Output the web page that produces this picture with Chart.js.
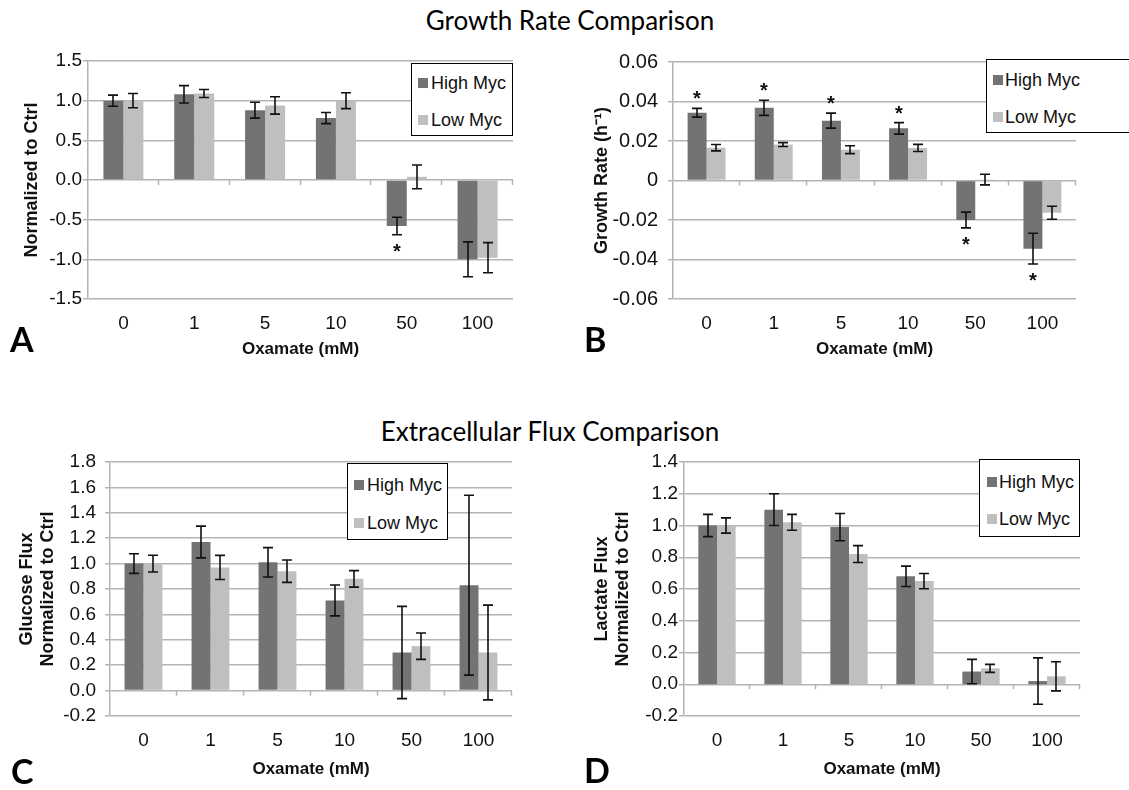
<!DOCTYPE html>
<html lang="en">
<head>
<meta charset="UTF-8">
<title>Growth Rate / Extracellular Flux Comparison</title>
<script src="https://cdn.jsdelivr.net/npm/chart.js"></script>
<style>
  body { margin: 0; width: 1129px; height: 790px; overflow: hidden; background: #fff; position: relative;
         font-family: Arial, "Liberation Sans", sans-serif; color: #111; }
  canvas { position: absolute; }
  .titulo { position: absolute; font-family: Lato, "Open Sans", sans-serif; font-size: 26px; line-height: 30px;
            white-space: nowrap; transform: translateX(-50%); color: #000; }
  .letra { position: absolute; font-family: Lato, "Open Sans", sans-serif; font-weight: bold; font-size: 34px; line-height: 34px; color: #000; }
  .legenda { position: absolute; border: 1px solid #000; background: #fff; box-sizing: border-box; }
  .sw { position: absolute; width: 10px; height: 10px; }
  .txt { position: absolute; font-size: 18px; line-height: 20px; white-space: nowrap; }
</style>
</head>
<body>
  <div class="titulo" style="left:570px; top:5px;">Growth Rate Comparison</div>
  <div class="titulo" style="left:550px; top:416px;">Extracellular Flux Comparison</div>

  <canvas id="graficoA"></canvas>
  <canvas id="graficoB"></canvas>
  <canvas id="graficoC"></canvas>
  <canvas id="graficoD"></canvas>

  <div class="letra" style="left:10px; top:322px;">A</div>
  <div class="letra" style="left:584px; top:322px;">B</div>
  <div class="letra" style="left:11px; top:754px;">C</div>
  <div class="letra" style="left:584px; top:753px;">D</div>

  <div id="legendas"></div>

<script>
// dados
const doses = ['0', '1', '5', '10', '50', '100'];

const growthHigh = [1.00, 1.08, 0.88, 0.78, -0.58, -1.00];
const growthHighErr = [0.07, 0.11, 0.10, 0.07, 0.11, 0.22];
const growthLow = [1.00, 1.09, 0.94, 1.00, 0.04, -0.98];
const growthLowErr = [0.09, 0.05, 0.11, 0.10, 0.15, 0.19];
const growthStars = [false, false, false, false, true, false];

const rateHigh = [0.0343, 0.0368, 0.0303, 0.0264, -0.0200, -0.0345];
const rateHighErr = [0.0022, 0.0038, 0.0038, 0.0029, 0.0040, 0.0078];
const rateLow = [0.0166, 0.0182, 0.0156, 0.0165, 0.0005, -0.0163];
const rateLowErr = [0.0016, 0.0010, 0.0020, 0.0018, 0.0027, 0.0033];
const rateStars = [true, true, true, true, true, true];

const glucoseHigh = [1.00, 1.17, 1.01, 0.71, 0.30, 0.83];
const glucoseHighErr = [0.077, 0.125, 0.116, 0.122, 0.363, 0.708];
const glucoseLow = [1.00, 0.97, 0.94, 0.88, 0.35, 0.30];
const glucoseLowErr = [0.066, 0.095, 0.088, 0.065, 0.104, 0.373];

const lactateHigh = [1.00, 1.10, 0.99, 0.68, 0.08, 0.02];
const lactateHighErr = [0.070, 0.100, 0.086, 0.064, 0.077, 0.146];
const lactateLow = [1.00, 1.02, 0.82, 0.65, 0.10, 0.05];
const lactateLowErr = [0.048, 0.050, 0.053, 0.048, 0.025, 0.092];

const corEscura = '#737373';
const corClara = '#bfbfbf';
const corGrade = '#b4b4b4';
const fonte = 'Arial, "Liberation Sans", sans-serif';

// barras de erro, asteriscos e marquinhas do eixo em zero
const barrasErro = {
    id: 'barrasErro',
    afterDatasetsDraw(chart) {
        const ctx = chart.ctx;
        const y = chart.scales.y;
        const x = chart.scales.x;
        ctx.save();

        // marcas no zero entre categorias
        const y0 = y.getPixelForValue(0);
        const passo = (x.right - x.left) / doses.length;
        ctx.strokeStyle = corGrade;
        ctx.lineWidth = 1.5;
        for (let k = 1; k <= doses.length; k++) {
            const px = Math.round(x.left + k * passo) - 0.5;
            ctx.beginPath();
            ctx.moveTo(px, y0);
            ctx.lineTo(px, y0 + 5);
            ctx.stroke();
        }

        ctx.strokeStyle = '#111';
        ctx.lineWidth = 1.6;
        ctx.fillStyle = '#111';
        ctx.font = 'bold 20px ' + fonte;
        ctx.textAlign = 'center';
        ctx.textBaseline = 'alphabetic';
        chart.data.datasets.forEach((ds, d) => {
            const meta = chart.getDatasetMeta(d);
            meta.data.forEach((bar, i) => {
                const v = ds.data[i];
                const e = ds.erros[i];
                const yTop = y.getPixelForValue(v + e);
                const yBot = y.getPixelForValue(v - e);
                const bx = Math.round(bar.x);
                ctx.beginPath();
                ctx.moveTo(bx, yTop);
                ctx.lineTo(bx, yBot);
                ctx.moveTo(bx - 5, yTop);
                ctx.lineTo(bx + 5, yTop);
                ctx.moveTo(bx - 5, yBot);
                ctx.lineTo(bx + 5, yBot);
                ctx.stroke();
                if (ds.estrelas && ds.estrelas[i]) {
                    if (v >= 0) {
                        ctx.fillText('*', bx, yTop - 3);
                    } else {
                        ctx.fillText('*', bx, yBot + 23);
                    }
                }
            });
        });
        ctx.restore();
    }
};

function montarGrafico(id, pos, area, eixoY, tituloY, padTituloY, serie) {
    const canvas = document.getElementById(id);
    canvas.width = pos.w;
    canvas.height = pos.h;
    canvas.style.left = pos.x + 'px';
    canvas.style.top = pos.y + 'px';

    const config = {
        type: 'bar',
        data: {
            labels: doses,
            datasets: [{
                label: 'High Myc',
                data: serie.alto,
                erros: serie.altoErr,
                estrelas: serie.estrelas,
                backgroundColor: corEscura
            }, {
                label: 'Low Myc',
                data: serie.baixo,
                erros: serie.baixoErr,
                backgroundColor: corClara
            }]
        },
        options: {
            responsive: false,
            animation: false,
            devicePixelRatio: 1,
            layout: {
                padding: { top: area.t - pos.y, right: pos.x + pos.w - area.r, left: 0, bottom: 0 }
            },
            datasets: {
                bar: { categoryPercentage: 0.565, barPercentage: 1 }
            },
            plugins: {
                legend: { display: false },
                tooltip: { enabled: false }
            },
            scales: {
                x: {
                    grid: { display: false, drawTicks: false },
                    border: { display: false },
                    ticks: { padding: 13, color: '#111', maxRotation: 0, font: { family: fonte, size: 19 } },
                    title: {
                        display: true,
                        text: 'Oxamate (mM)',
                        color: '#111',
                        font: { family: fonte, size: 17, weight: 'bold' },
                        padding: { top: 0, bottom: 10 }
                    },
                    afterFit: (s) => { s.height = pos.y + pos.h - area.b; }
                },
                y: {
                    min: eixoY.min,
                    max: eixoY.max,
                    ticks: {
                        stepSize: eixoY.passo,
                        autoSkip: false,
                        callback: eixoY.formato,
                        padding: eixoY.padTick,
                        color: '#111',
                        font: { family: fonte, size: eixoY.tam }
                    },
                    grid: { color: corGrade, lineWidth: 1.5, tickLength: 5 },
                    border: { display: true, color: corGrade, width: 1.5 },
                    title: {
                        display: true,
                        text: tituloY,
                        color: '#111',
                        font: { family: fonte, size: 18, weight: 'bold' },
                        padding: { top: padTituloY, bottom: 0 }
                    },
                    afterFit: (s) => { s.width = area.l - pos.x; }
                }
            }
        },
        plugins: [barrasErro]
    };

    new Chart(canvas, config);
}

function legenda(box, swX, txtX, linhas) {
    const div = document.createElement('div');
    div.className = 'legenda';
    div.style.left = box.x + 'px';
    div.style.top = box.y + 'px';
    div.style.width = box.w + 'px';
    div.style.height = box.h + 'px';
    const nomes = ['High Myc', 'Low Myc'];
    const cores = [corEscura, corClara];
    for (let k = 0; k < 2; k++) {
        const sw = document.createElement('div');
        sw.className = 'sw';
        sw.style.background = cores[k];
        sw.style.left = (swX - box.x - 1) + 'px';
        sw.style.top = (linhas[k] - box.y - 6) + 'px';
        div.appendChild(sw);
        const t = document.createElement('div');
        t.className = 'txt';
        t.textContent = nomes[k];
        t.style.left = (txtX - box.x - 1) + 'px';
        t.style.top = (linhas[k] - box.y - 11) + 'px';
        div.appendChild(t);
    }
    document.getElementById('legendas').appendChild(div);
}

const umDecimal = (v) => (Math.abs(v) < 1e-9 ? '0.0' : v.toFixed(1));
const doisDecimais = (v) => (Math.abs(v) < 1e-9 ? '0' : v.toFixed(2));

montarGrafico('graficoA',
    { x: 0, y: 40, w: 540, h: 330 },
    { l: 88, t: 61, r: 513, b: 299 },
    { min: -1.5, max: 1.5, passo: 0.5, formato: umDecimal, tam: 19, padTick: 1 },
    'Normalized to Ctrl', 21,
    { alto: growthHigh, altoErr: growthHighErr, baixo: growthLow, baixoErr: growthLowErr, estrelas: growthStars });

montarGrafico('graficoB',
    { x: 560, y: 40, w: 540, h: 330 },
    { l: 673, t: 61, r: 1076, b: 299 },
    { min: -0.06, max: 0.06, passo: 0.02, formato: doisDecimais, tam: 20, padTick: 10 },
    'Growth Rate (h\u207B\u00B9)', 31,
    { alto: rateHigh, altoErr: rateHighErr, baixo: rateLow, baixoErr: rateLowErr, estrelas: rateStars });

montarGrafico('graficoC',
    { x: 0, y: 420, w: 540, h: 370 },
    { l: 110, t: 462, r: 512, b: 716 },
    { min: -0.2, max: 1.8, passo: 0.2, formato: umDecimal, tam: 19, padTick: 9 },
    ['Glucose Flux', 'Normalized to Ctrl'], 16,
    { alto: glucoseHigh, altoErr: glucoseHighErr, baixo: glucoseLow, baixoErr: glucoseLowErr });

montarGrafico('graficoD',
    { x: 560, y: 420, w: 540, h: 370 },
    { l: 684, t: 462, r: 1080, b: 716 },
    { min: -0.2, max: 1.4, passo: 0.2, formato: umDecimal, tam: 19, padTick: 1 },
    ['Lactate Flux', 'Normalized to Ctrl'], 31,
    { alto: lactateHigh, altoErr: lactateHighErr, baixo: lactateLow, baixoErr: lactateLowErr });

legenda({ x: 411, y: 63, w: 102, h: 73 }, 418, 431, [83, 120]);
legenda({ x: 986, y: 59, w: 160, h: 74 }, 993, 1005, [80, 117]);
legenda({ x: 347, y: 463, w: 101, h: 77 }, 354, 367, [485, 523]);
legenda({ x: 979, y: 459, w: 101, h: 78 }, 987, 999, [482, 519]);
</script>
</body>
</html>
